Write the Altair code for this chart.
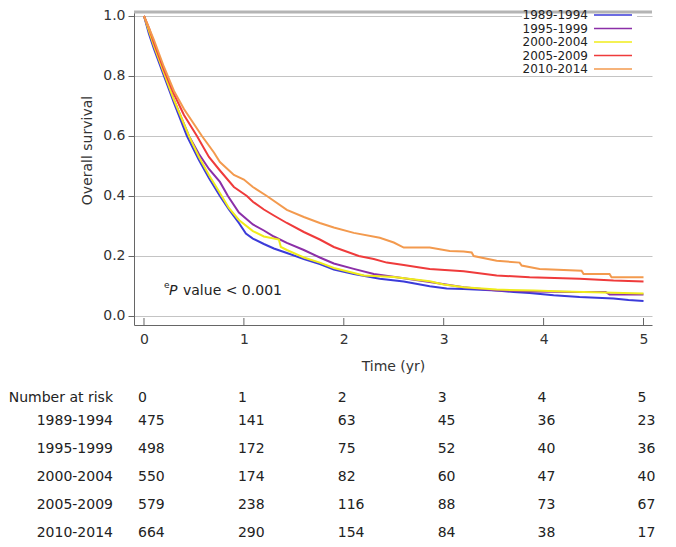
import altair as alt
import pandas as pd

groups = ["1989-1994", "1995-1999", "2000-2004", "2005-2009", "2010-2014"]
colors = ["#3b3bd9", "#8b2fa8", "#f0ec1a", "#ef3b3b", "#f39a4e"]

# Kaplan-Meier curves (time in years, survival)
t_1989 = [0, 0.05, 0.1, 0.2, 0.3, 0.43, 0.55, 0.65, 0.76, 0.85, 0.95, 1.02, 1.09, 1.2, 1.3, 1.43, 1.6, 1.76, 1.9, 2.1, 2.36, 2.6, 2.86, 3.03, 3.2, 3.53, 3.7, 3.86, 4.1, 4.36, 4.7, 4.85, 5.0]
s_1989 = [1.0, 0.94, 0.89, 0.80, 0.71, 0.60, 0.52, 0.46, 0.40, 0.355, 0.31, 0.275, 0.258, 0.24, 0.225, 0.21, 0.19, 0.173, 0.155, 0.14, 0.124, 0.115, 0.099, 0.092, 0.09, 0.085, 0.08, 0.077, 0.069, 0.063, 0.058, 0.053, 0.05]

t_1995 = [0, 0.05, 0.1, 0.2, 0.3, 0.45, 0.55, 0.65, 0.76, 0.84, 0.95, 1.09, 1.2, 1.3, 1.43, 1.6, 1.76, 1.9, 2.1, 2.3, 2.53, 2.86, 3.2, 3.53, 3.86, 4.3, 4.62, 4.66, 5.0]
s_1995 = [1.0, 0.95, 0.90, 0.81, 0.72, 0.60, 0.54, 0.49, 0.447, 0.40, 0.345, 0.305, 0.285, 0.265, 0.244, 0.22, 0.195, 0.175, 0.157, 0.14, 0.129, 0.113, 0.096, 0.085, 0.082, 0.08, 0.08, 0.072, 0.072]

t_2000 = [0, 0.05, 0.1, 0.2, 0.3, 0.45, 0.55, 0.65, 0.76, 0.85, 0.95, 1.09, 1.2, 1.35, 1.37, 1.43, 1.6, 1.76, 1.9, 2.2, 2.5, 2.86, 3.0, 3.2, 3.53, 3.9, 4.2, 4.6, 5.0]
s_2000 = [1.0, 0.95, 0.90, 0.81, 0.72, 0.60, 0.53, 0.47, 0.41, 0.36, 0.32, 0.283, 0.265, 0.255, 0.23, 0.22, 0.195, 0.178, 0.16, 0.135, 0.13, 0.116, 0.105, 0.096, 0.088, 0.085, 0.082, 0.078, 0.075]

t_2005 = [0, 0.05, 0.1, 0.2, 0.3, 0.4, 0.53, 0.65, 0.76, 0.9, 1.03, 1.09, 1.2, 1.3, 1.43, 1.6, 1.76, 1.9, 2.15, 2.3, 2.43, 2.6, 2.76, 2.86, 3.2, 3.53, 3.86, 4.36, 4.7, 5.0]
s_2005 = [1.0, 0.96, 0.91, 0.82, 0.74, 0.67, 0.60, 0.53, 0.485, 0.43, 0.40, 0.381, 0.355, 0.335, 0.31, 0.28, 0.255, 0.23, 0.20, 0.19, 0.178, 0.17, 0.162, 0.157, 0.149, 0.135, 0.129, 0.124, 0.118, 0.115]

t_2010 = [0, 0.05, 0.1, 0.2, 0.3, 0.4, 0.58, 0.7, 0.76, 0.9, 1.0, 1.09, 1.23, 1.43, 1.6, 1.76, 1.9, 2.1, 2.36, 2.5, 2.6, 2.86, 3.06, 3.2, 3.28, 3.3, 3.53, 3.76, 3.78, 3.96, 4.38, 4.4, 4.66, 4.68, 5.0]
s_2010 = [1.0, 0.96, 0.92, 0.83, 0.75, 0.69, 0.60, 0.545, 0.513, 0.47, 0.455, 0.43, 0.40, 0.354, 0.33, 0.31, 0.295, 0.277, 0.261, 0.245, 0.228, 0.228, 0.217, 0.215, 0.212, 0.2, 0.184, 0.178, 0.168, 0.157, 0.151, 0.14, 0.14, 0.129, 0.129]

# Number at risk table
risk_times = [0, 1, 2, 3, 4, 5]
risk_1989 = [475, 141, 63, 45, 36, 23]
risk_1995 = [498, 172, 75, 52, 40, 36]
risk_2000 = [550, 174, 82, 60, 47, 40]
risk_2005 = [579, 238, 116, 88, 73, 67]
risk_2010 = [664, 290, 154, 84, 38, 17]

x_ticks = [0, 1, 2, 3, 4, 5]
y_ticks = [0.0, 0.2, 0.4, 0.6, 0.8, 1.0]

FONT = "DejaVu Sans"
W, H = 518, 313

curves = [(t_1989, s_1989), (t_1995, s_1995), (t_2000, s_2000), (t_2005, s_2005), (t_2010, s_2010)]
rows = []
for g, (ts, ss) in zip(groups, curves):
    for i, (t, s) in enumerate(zip(ts, ss)):
        rows.append({"group": g, "t": t, "s": s, "idx": i})
curve_df = pd.DataFrame(rows)

risks = [risk_1989, risk_1995, risk_2000, risk_2005, risk_2010]
trows = []
for k, (g, r) in enumerate(zip(groups, risks)):
    for t, n in zip(risk_times, r):
        trows.append({"group": g, "k": k, "t": t, "n": n})
risk_df = pd.DataFrame(trows)
grp_df = pd.DataFrame({"group": groups, "k": list(range(len(groups)))})
head_df = pd.DataFrame({"t": risk_times, "lab": [str(v) for v in risk_times]})
tick_df = pd.DataFrame({"t": x_ticks})
one_df = pd.DataFrame({"a": [0]})

xscale = alt.Scale(domain=[-0.1, 5.085], nice=False, zero=False)
yscale = alt.Scale(domain=[-0.03, 1.0133], nice=False, zero=False)
cscale = alt.Scale(domain=groups, range=colors)
XT = "Time (yr)"

xaxis = alt.Axis(values=x_ticks, format="d", ticks=False, grid=False, domainColor="#666",
                 labelFontSize=14, labelColor="#333", labelPadding=7, labelFont=FONT,
                 titleFontSize=14, titleFontWeight="normal", titleColor="#333", titleFont=FONT,
                 titleY=41, titleBaseline="middle")
yaxis = alt.Axis(values=y_ticks, format=".1f", tickSize=6, tickColor="#666", domainColor="#666",
                 gridColor="#c4c4c4", labelFontSize=14, labelColor="#333", labelPadding=3, labelFont=FONT,
                 title="Overall survival", titleFontSize=14, titleFontWeight="normal", titleColor="#333",
                 titleFont=FONT, titleX=-47, titleY=138, titleAlign="center", titleBaseline="middle")

lines = alt.Chart(curve_df).mark_line(strokeWidth=2, clip=True).encode(
    x=alt.X("t:Q", scale=xscale, axis=xaxis, title=XT),
    y=alt.Y("s:Q", scale=yscale, axis=yaxis),
    color=alt.Color("group:N", scale=cscale, legend=None),
    order=alt.Order("idx:Q"),
)

xticks = alt.Chart(tick_df).mark_rule(color="#666", strokeWidth=1).encode(
    x=alt.X("t:Q", scale=xscale, title=XT),
    y=alt.value(H - 7), y2=alt.value(H),
)

top_border = alt.Chart(one_df).mark_rule(color="#b4b4b4", strokeWidth=3).encode(
    x=alt.value(0), x2=alt.value(W), y=alt.value(0)
)

leg_bg = alt.Chart(one_df).mark_rect(color="white").encode(
    x=alt.value(388), x2=alt.value(503), y=alt.value(2), y2=alt.value(64)
)
leg_base = alt.Chart(grp_df).transform_calculate(py="3 + datum.k * 13.5")
leg_text = leg_base.mark_text(align="right", baseline="middle", fontSize=12, font=FONT, color="#222").encode(
    x=alt.value(454), y=alt.Y("py:Q", scale=None, axis=None), text="group:N"
)
leg_line = leg_base.mark_rule(strokeWidth=1.5).encode(
    x=alt.value(460), x2=alt.value(498), y=alt.Y("py:Q", scale=None, axis=None),
    color=alt.Color("group:N", scale=cscale, legend=None),
)

p_e = alt.Chart(one_df).mark_text(text="e", align="left", baseline="middle", fontSize=9, font=FONT, color="#222").encode(
    x=alt.value(30), y=alt.value(273)
)
p_p = alt.Chart(one_df).mark_text(text="P", align="left", baseline="middle", fontSize=14, font=FONT,
                                  fontStyle="italic", color="#222").encode(x=alt.value(35), y=alt.value(279))
p_v = alt.Chart(one_df).mark_text(text="value < 0.001", align="left", baseline="middle", fontSize=14, font=FONT,
                                  color="#222").encode(x=alt.value(49), y=alt.value(279))

tbl_title = alt.Chart(one_df).mark_text(text="Number at risk", align="right", baseline="middle", fontSize=14,
                                        font=FONT, color="#222").encode(x=alt.value(-21), y=alt.value(386))
tbl_head = alt.Chart(head_df).mark_text(align="left", baseline="middle", fontSize=14, font=FONT, color="#222", dx=-6).encode(
    x=alt.X("t:Q", scale=xscale, title=XT), y=alt.value(386), text="lab:N"
)
tbl_rows = alt.Chart(grp_df).transform_calculate(py="409 + datum.k * 27.9").mark_text(
    align="right", baseline="middle", fontSize=14, font=FONT, color="#222").encode(
    x=alt.value(-21), y=alt.Y("py:Q", scale=None, axis=None), text="group:N"
)
tbl_vals = alt.Chart(risk_df).transform_calculate(py="409 + datum.k * 27.9").mark_text(
    align="left", baseline="middle", fontSize=14, font=FONT, color="#222", dx=-6).encode(
    x=alt.X("t:Q", scale=xscale, title=XT), y=alt.Y("py:Q", scale=None, axis=None), text="n:Q"
)

chart = alt.layer(
    lines, xticks, leg_bg, top_border, leg_text, leg_line, p_e, p_p, p_v,
    tbl_title, tbl_head, tbl_rows, tbl_vals,
).properties(
    width=W, height=H,
    autosize=alt.AutoSizeParams(type="none"),
    padding={"left": 126, "top": 4, "right": 10, "bottom": 222},
).configure_view(stroke=None)

chart.save("out.html", embed_options={"renderer": "svg", "actions": False})
